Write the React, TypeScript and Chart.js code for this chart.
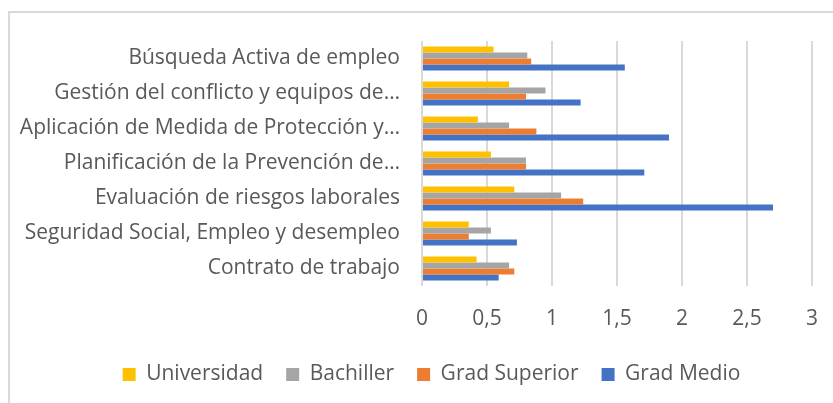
import React, { useEffect, useRef } from "react";
import { Chart, registerables } from "chart.js";

Chart.register(...registerables);

const categories = [
  "Búsqueda Activa de empleo",
  "Gestión del conflicto y equipos de…",
  "Aplicación de Medida de Protección y…",
  "Planificación de la Prevención de…",
  "Evaluación de riesgos laborales",
  "Seguridad Social, Empleo y desempleo",
  "Contrato de trabajo",
];

const universidad = [0.55, 0.67, 0.43, 0.53, 0.71, 0.36, 0.42];
const bachiller = [0.81, 0.95, 0.67, 0.8, 1.07, 0.53, 0.67];
const gradSuperior = [0.84, 0.8, 0.88, 0.8, 1.24, 0.36, 0.71];
const gradMedio = [1.56, 1.22, 1.9, 1.71, 2.7, 0.73, 0.59];

const xTickLabels = ["0", "0,5", "1", "1,5", "2", "2,5", "3"];

const FONT = "'Open Sans', sans-serif";
const TEXT = "#595959";
const GRID = "#d9d9d9";

const framePlugin = {
  id: "frame",
  beforeDraw(chart: any) {
    const ctx = chart.ctx;
    ctx.save();
    ctx.fillStyle = "#ffffff";
    ctx.fillRect(0, 0, chart.width, chart.height);
    ctx.fillStyle = GRID;
    ctx.fillRect(8, 11, 2, chart.height - 11);
    ctx.fillRect(8, 11, chart.width - 8, 2);
    ctx.restore();
  },
};

const legendShift = {
  id: "legendShift",
  afterLayout(chart: any) {
    const l = chart.legend;
    if (l) {
      l.left += 15;
      l.right += 15;
    }
  },
};

export default function App() {
  const ref = useRef<HTMLCanvasElement | null>(null);

  useEffect(() => {
    if (!ref.current) return;
    const chart = new Chart(ref.current, {
      type: "bar",
      data: {
        labels: categories,
        datasets: [
          { label: "Universidad", data: universidad, backgroundColor: "#FFC000" },
          { label: "Bachiller", data: bachiller, backgroundColor: "#A5A5A5" },
          { label: "Grad Superior", data: gradSuperior, backgroundColor: "#ED7D31" },
          { label: "Grad Medio", data: gradMedio, backgroundColor: "#4472C4" },
        ],
      },
      options: {
        indexAxis: "y",
        responsive: false,
        animation: false,
        datasets: {
          bar: { categoryPercentage: 0.684, barPercentage: 1 },
        },
        layout: { padding: { left: 0, right: 0, top: 41, bottom: 8 } },
        scales: {
          x: {
            min: 0,
            max: 3,
            ticks: {
              stepSize: 0.5,
              padding: 20,
              color: TEXT,
              font: { family: FONT, size: 21 },
              callback: (_v: any, i: number) => xTickLabels[i],
            },
            grid: { color: GRID, lineWidth: 2, drawTicks: false },
            border: { display: false },
            afterFit: (s: any) => {
              s.paddingRight = 21;
              s.paddingLeft = 0;
              s.height = 55;
            },
          },
          y: {
            ticks: {
              padding: 22,
              color: TEXT,
              font: { family: FONT, size: 21 },
            },
            grid: { display: false, drawTicks: false },
            border: { display: false },
            afterFit: (s: any) => {
              s.width = 422;
            },
          },
        },
        plugins: {
          legend: {
            position: "bottom",
            labels: {
              boxWidth: 13,
              boxHeight: 13,
              padding: 23,
              color: TEXT,
              font: { family: FONT, size: 21 },
            },
          },
          tooltip: { enabled: false },
        },
      },
      plugins: [framePlugin, legendShift],
    });
    return () => chart.destroy();
  }, []);

  return (
    <div style={{ position: "fixed", left: 0, top: 0, width: 833, height: 403 }}>
      <canvas ref={ref} width={833} height={403} style={{ width: 833, height: 403, display: "block" }} />
    </div>
  );
}
